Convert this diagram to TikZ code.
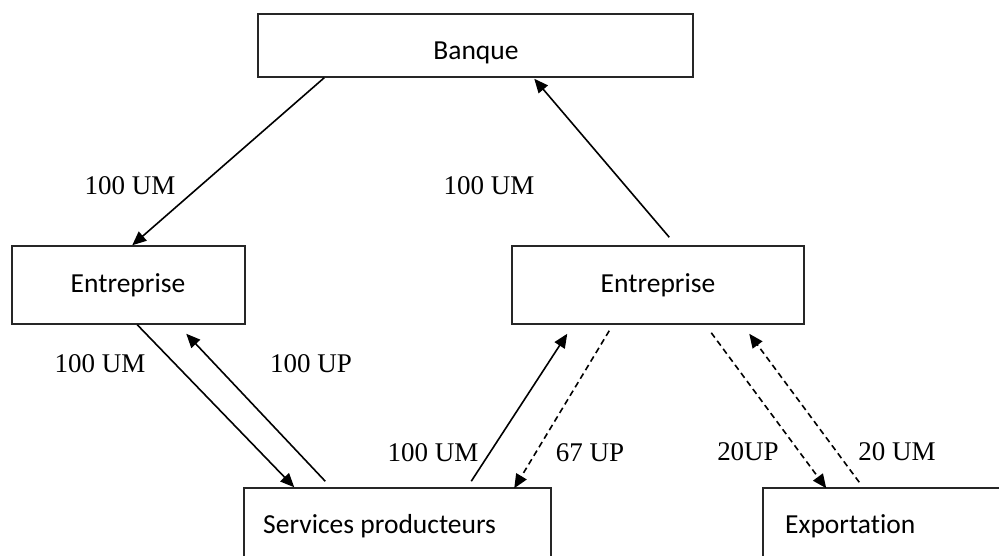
\documentclass[tikz,border=0pt]{standalone}
\usepackage{fontspec}
\setmainfont{Liberation Serif}
\newfontfamily\boitefont[Ligatures=NoCommon]{Carlito}
\usetikzlibrary{arrows.meta}

\begin{document}
\begin{tikzpicture}[x=1pt,y=-1pt,
  boite/.style={draw=black!85,line width=1.5pt,inner sep=0pt},
  texteboite/.style={font=\boitefont\fontsize{27.5}{33}\selectfont,inner sep=0pt},
  montant/.style={font=\fontsize{27}{32}\selectfont,inner sep=0pt,anchor=base},
  flux/.style={line width=1.6pt,-{Triangle[length=14pt,width=12pt]}},
  fluxtirets/.style={flux,dash pattern=on 6pt off 4pt}]

%Cadre de la figure
\useasboundingbox (0,0) rectangle (999,556);

%Boites
\node[boite,minimum width=435pt,minimum height=63pt] (banque) at (475.5,45.5) {};
\node[boite,minimum width=233pt,minimum height=78pt] (entg) at (128.5,285) {};
\node[boite,minimum width=292pt,minimum height=78pt] (entd) at (658,285) {};
\node[boite,minimum width=307pt,minimum height=112pt] (serv) at (397.5,544) {};
\node[boite,minimum width=337pt,minimum height=112pt] (export) at (931.5,544) {};

%Textes des boites
\node[texteboite,anchor=base] (tbanque) at (476,60) {Banque};
\node[texteboite,anchor=base] (tentg) at (128,292) {Entreprise};
\node[texteboite,anchor=base] (tentd) at (658,292) {Entreprise};
\node[texteboite,anchor=base west] (tserv) at (263,533) {Services producteurs};
\node[texteboite,anchor=base west] (texport) at (785,533) {Exportation};

%Flux monetaires et reels
\draw[flux] ([xshift=67pt]banque.south west) -- ([xshift=121pt]entg.north west);
\draw[flux] ([xshift=158pt,yshift=8pt]entd.north west) -- ([xshift=277pt,yshift=-1pt]banque.south west);
\draw[flux] ([xshift=126pt]entg.south west) -- ([xshift=51pt]serv.north west);
\draw[flux] ([xshift=82pt,yshift=6pt]serv.north west) -- ([xshift=175pt,yshift=-9pt]entg.south west);
\draw[flux] ([xshift=228pt,yshift=6pt]serv.north west) -- ([xshift=56pt,yshift=-9pt]entd.south west);
\draw[fluxtirets] ([xshift=98pt,yshift=-6pt]entd.south west) -- ([xshift=271pt,yshift=-1pt]serv.north west);
\draw[fluxtirets] ([xshift=200pt,yshift=-8pt]entd.south west) -- ([xshift=64pt,yshift=-1pt]export.north west);
\draw[fluxtirets] ([xshift=97pt,yshift=5pt]export.north west) -- ([xshift=238pt,yshift=-9pt]entd.south west);

%Montants
\node[montant] (m1) at (130,195) {100 UM};
\node[montant] (m2) at (489,195) {100 UM};
\node[montant] (m3) at (100,372) {100 UM};
\node[montant] (m4) at (311,372) {100 UP};
\node[montant] (m5) at (433,461) {100 UM};
\node[montant] (m6) at (590,461) {67 UP};
\node[montant] (m7) at (748,460) {20UP};
\node[montant] (m8) at (897,460) {20 UM};

\end{tikzpicture}
\end{document}
